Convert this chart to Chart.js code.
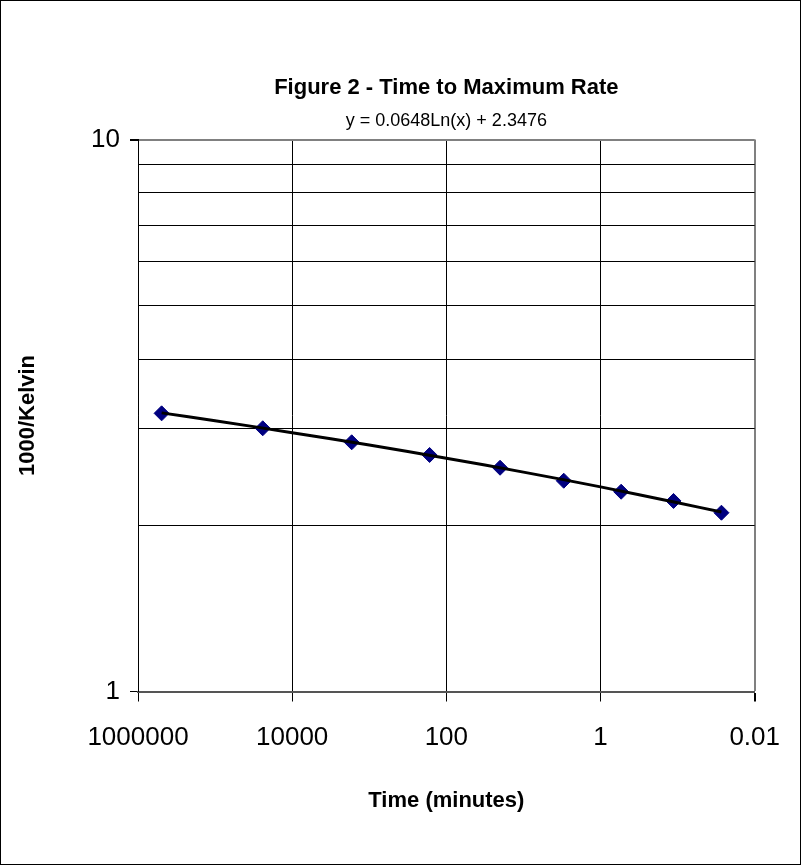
<!DOCTYPE html>
<html>
<head>
<meta charset="utf-8">
<title>Figure 2 - Time to Maximum Rate</title>
<script src="https://cdn.jsdelivr.net/npm/chart.js@4.4.1/dist/chart.umd.min.js"></script>
<style>
  html, body { margin: 0; padding: 0; background: #fff; }
  #c { display: block; }
</style>
</head>
<body>
<canvas id="c" width="801" height="865"></canvas>
<script>
// measured points: time to max rate (minutes) vs 1000/K
const timeMinutes = [494000, 24100, 1690, 165, 20.1, 3.0, 0.54, 0.113, 0.027];
const invKelvin = [3.191, 2.998, 2.828, 2.682, 2.543, 2.409, 2.301, 2.214, 2.108];

// log trendline as shown on the chart (y = 0.0648Ln(x) + 2.3476), read at a few x
const trendX = [494000, 100000, 10000, 1000, 100, 10, 1, 0.1, 0.027];
const trendY = [3.197, 3.094, 2.944, 2.795, 2.646, 2.497, 2.348, 2.198, 2.114];

const xTicks = [1000000, 10000, 100, 1, 0.01];
const xTickLabels = ['1000000', '10000', '100', '1', '0.01'];
const yTicks = [1, 2, 3, 4, 5, 6, 7, 8, 9, 10];
const yTickLabels = ['1', '', '', '', '', '', '', '', '', '10'];

const FONT = 'Arial, "Liberation Sans", sans-serif';

const framePlugin = {
  id: 'frame',
  beforeDraw(chart) {
    const ctx = chart.ctx;
    ctx.save();
    ctx.fillStyle = '#fff';
    ctx.fillRect(0, 0, chart.width, chart.height);
    ctx.strokeStyle = '#000';
    ctx.lineWidth = 1;
    ctx.strokeRect(0.5, 0.5, chart.width - 1, chart.height - 1);
    ctx.restore();
  },
  // center the title and subtitle over the plot area, like the original
  afterLayout(chart) {
    const area = chart.chartArea;
    chart.boxes.forEach((b) => {
      if (b.options && typeof b.options.text === 'string' && b.position === 'top' && !b.isHorizontal === false && b.axis === undefined) {
        b.left = area.left;
        b.right = area.right;
        b.width = area.right - area.left;
      }
    });
  }
};

new Chart(document.getElementById('c'), {
  type: 'scatter',
  data: {
    datasets: [
      {
        label: 'trend',
        type: 'line',
        data: trendX.map((x, i) => ({ x: x, y: trendY[i] })),
        borderColor: '#000',
        borderWidth: 3,
        pointRadius: 0,
        tension: 0.3,
        fill: false,
        order: 0
      },
      {
        label: '1000/Kelvin',
        data: timeMinutes.map((x, i) => ({ x: x, y: invKelvin[i] })),
        pointStyle: 'rectRot',
        pointRadius: 7.5,
        backgroundColor: '#000080',
        borderColor: '#000080',
        borderWidth: 1,
        order: 1
      }
    ]
  },
  options: {
    responsive: false,
    animation: false,
    devicePixelRatio: 1,
    layout: { padding: { left: 0, right: 43, top: 0, bottom: 0 } },
    plugins: {
      legend: { display: false },
      tooltip: { enabled: false },
      title: {
        display: true,
        text: 'Figure 2 - Time to Maximum Rate',
        color: '#000',
        font: { family: FONT, size: 22, weight: 'bold' },
        padding: { top: 75, bottom: 0 }
      },
      subtitle: {
        display: true,
        text: 'y = 0.0648Ln(x) + 2.3476',
        color: '#000',
        font: { family: FONT, size: 18, weight: 'normal' },
        padding: { top: 9, bottom: 7.5 }
      }
    },
    scales: {
      x: {
        type: 'logarithmic',
        reverse: true,
        min: 0.01,
        max: 1000000,
        afterBuildTicks: (s) => { s.ticks = xTicks.map(v => ({ value: v })); },
        afterFit: (s) => { s.height = 173.5; },
        ticks: {
          autoSkip: false,
          maxRotation: 0,
          color: '#000',
          padding: 21,
          font: { family: FONT, size: 26 },
          callback: (v) => xTickLabels[xTicks.indexOf(v)] ?? ''
        },
        grid: {
          color: (c) => (c.tick && c.tick.value === 0.01 ? '#808080' : '#000'),
          lineWidth: (c) => (c.tick && c.tick.value === 0.01 ? 2 : 1),
          tickLength: 10,
          tickColor: '#000'
        },
        border: { display: true, color: '#555', width: 2 },
        title: {
          display: true,
          text: 'Time (minutes)',
          color: '#000',
          font: { family: FONT, size: 22, weight: 'bold' },
          padding: { top: 51, bottom: 51 }
        }
      },
      y: {
        type: 'logarithmic',
        min: 1,
        max: 10,
        afterBuildTicks: (s) => { s.ticks = yTicks.map(v => ({ value: v })); },
        afterFit: (s) => { s.width = 138; },
        ticks: {
          autoSkip: false,
          color: '#000',
          padding: 10,
          font: { family: FONT, size: 26 },
          callback: (v) => yTickLabels[yTicks.indexOf(v)] ?? ''
        },
        grid: {
          color: (c) => (c.tick && c.tick.value === 10 ? '#808080' : '#000'),
          lineWidth: (c) => (c.tick && c.tick.value === 10 ? 2 : 1),
          tickLength: 8,
          tickColor: (c) => (c.tick && (c.tick.value === 1 || c.tick.value === 10) ? '#000' : 'rgba(0,0,0,0)')
        },
        border: { display: true, color: '#000', width: 1 },
        title: {
          display: true,
          text: '1000/Kelvin',
          color: '#000',
          font: { family: FONT, size: 22, weight: 'bold' },
          padding: { top: 15, bottom: 15 }
        }
      }
    }
  },
  plugins: [framePlugin]
});
</script>
</body>
</html>
